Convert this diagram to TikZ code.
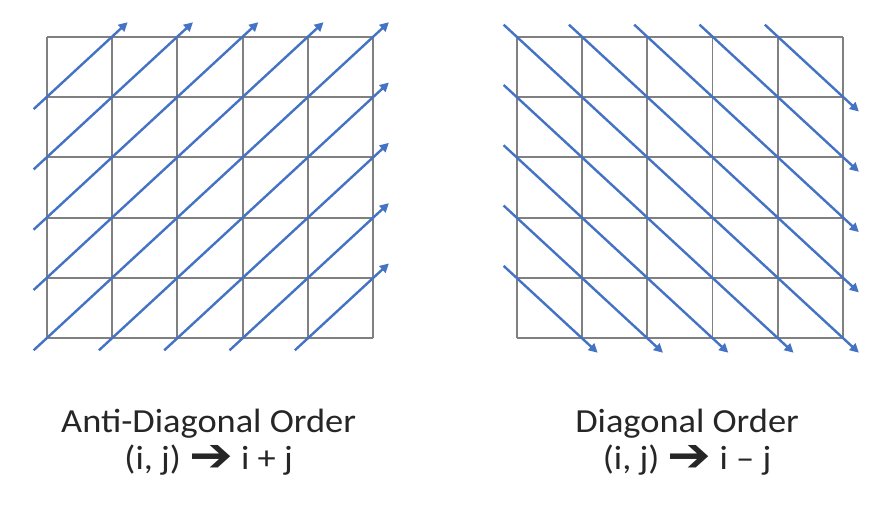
\documentclass[tikz,border=0pt]{standalone}
\usepackage{fontspec}
\setmainfont{Carlito}[FakeStretch=1.08]
\newfontfamily\arrowfont{DejaVu Sans}
\usepackage{tikz}
\usetikzlibrary{arrows.meta}
\definecolor{gridgray}{RGB}{128,128,128}
\definecolor{orderblue}{RGB}{68,114,196}
\newcommand{\maparrow}{\smash{\raisebox{-0.12ex}{\scalebox{1.55}[1.4]{\arrowfont ➔}}}}

\begin{document}
\begin{tikzpicture}[x=32.65pt, y=30.15pt,
  cell/.style={draw=gridgray, line width=0.9pt},
  walk/.style={draw=orderblue, line width=1.2pt, -{Triangle[length=4.5pt, width=4.5pt]}},
  caption/.style={font=\fontsize{16.85pt}{18.5pt}\selectfont, text=black!85, align=center, anchor=base, inner sep=0pt}]
  \useasboundingbox (-0.715,-3.212) rectangle (12.914,5.609);
  % anti-diagonal order
  \foreach \t in {0,...,5} {
    \draw[cell] (\t,0) -- (\t,5);
    \draw[cell] (0,\t) -- (5,\t);
  }
  \foreach \k in {-4,...,4} {
    \pgfmathsetmacro{\sx}{max(\k,0)}
    \pgfmathsetmacro{\sy}{max(-\k,0)}
    \pgfmathsetmacro{\ex}{min(5,5+\k)}
    \pgfmathsetmacro{\ey}{min(5,5-\k)}
    \draw[walk] (\sx-0.2,\sy-0.2) -- (\ex+0.24,\ey+0.24);
  }
  \node[caption] (antilabel) at (2.48,-2.184) {Anti-Diagonal Order\\(i, j) \maparrow{} i + j};
  % diagonal order
  \begin{scope}[shift={(7.197,0)}]
    \foreach \t in {0,...,5} {
      \draw[cell] (\t,0) -- (\t,5);
      \draw[cell] (0,\t) -- (5,\t);
    }
    \foreach \c in {1,...,9} {
      \pgfmathsetmacro{\sx}{max(\c-5,0)}
      \pgfmathsetmacro{\sy}{min(\c,5)}
      \pgfmathsetmacro{\ex}{min(\c,5)}
      \pgfmathsetmacro{\ey}{max(\c-5,0)}
      \draw[walk] (\sx-0.2,\sy+0.2) -- (\ex+0.24,\ey-0.24);
    }
    \node[caption] (diaglabel) at (2.61,-2.184) {Diagonal Order\\(i, j) \maparrow{} i – j};
  \end{scope}
\end{tikzpicture}
\end{document}
